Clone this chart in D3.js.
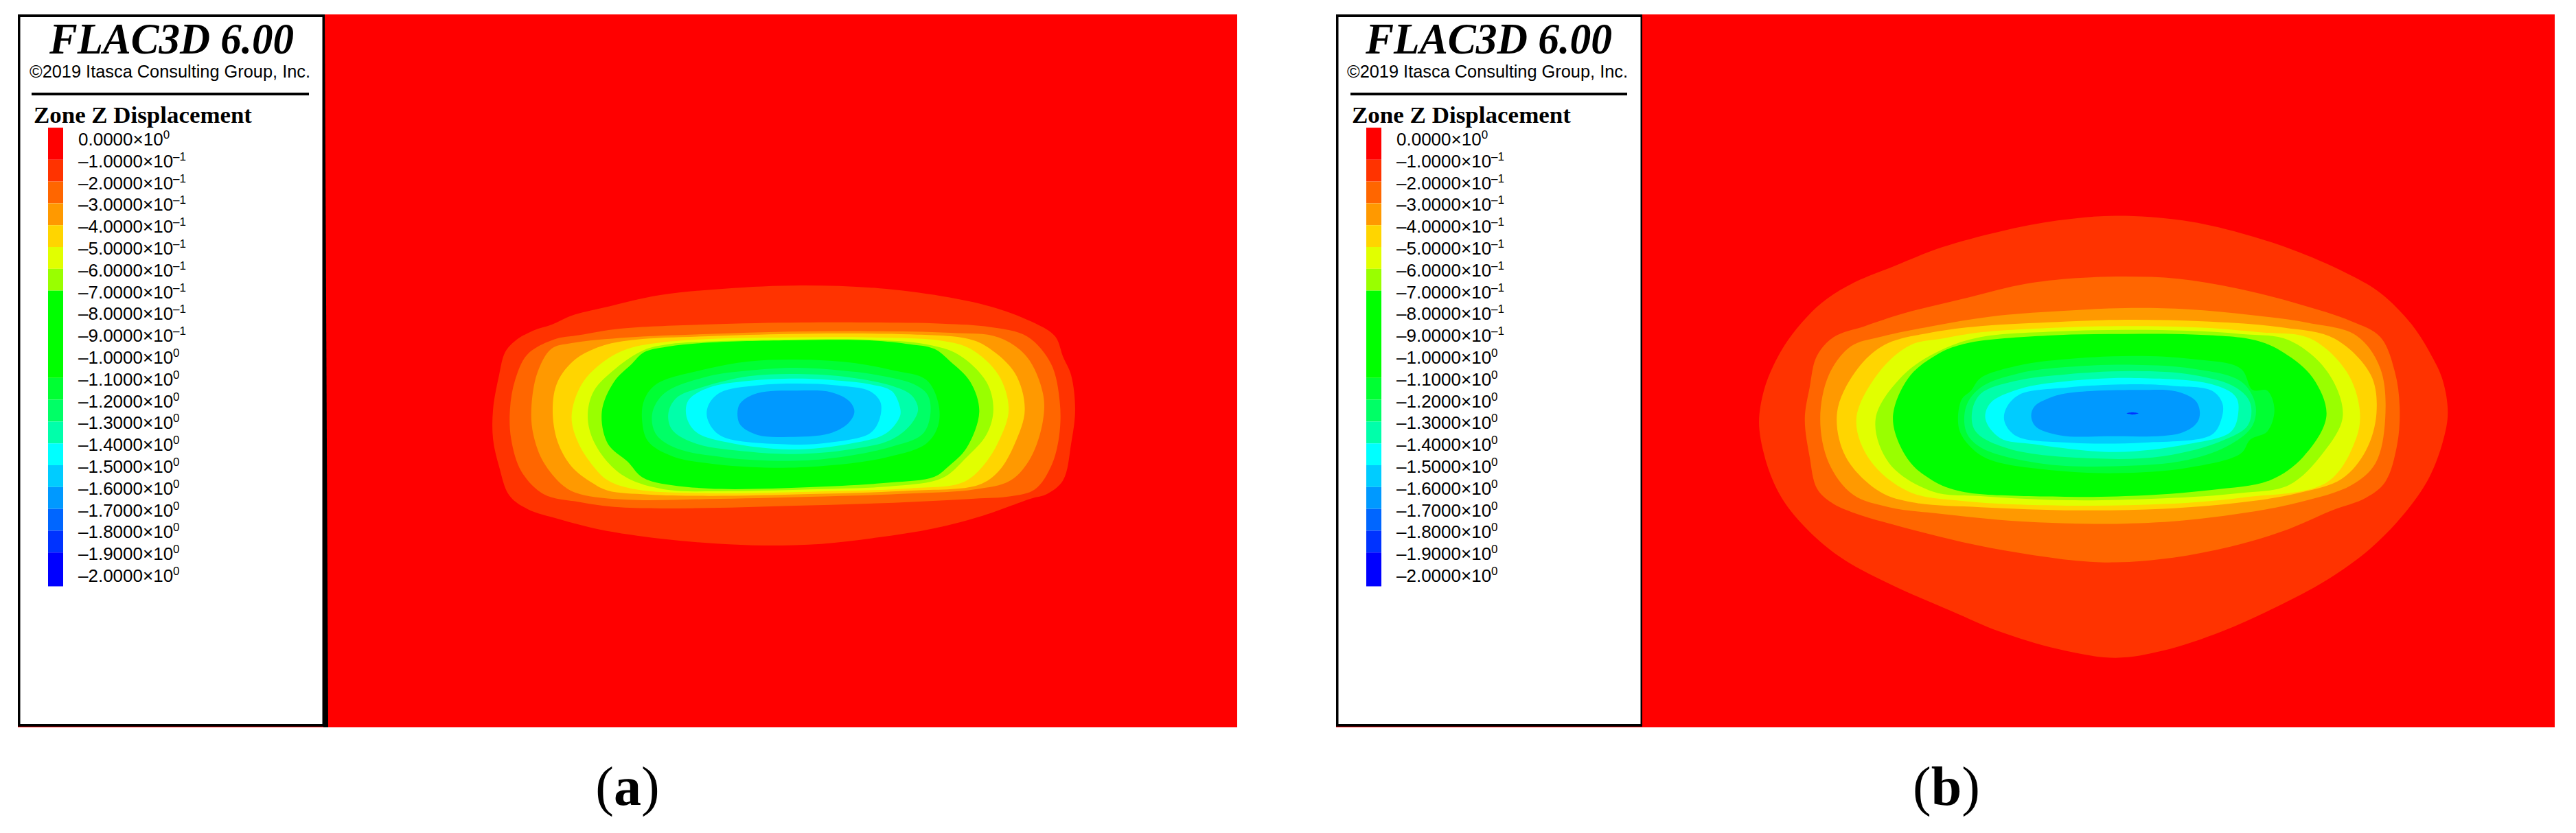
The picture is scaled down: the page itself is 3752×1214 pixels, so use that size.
<!DOCTYPE html>
<html>
<head>
<meta charset="utf-8">
<script src="https://cdn.jsdelivr.net/npm/d3@7"></script>
<style>
html, body { margin: 0; padding: 0; background: #fff; }
svg { display: block; }
</style>
</head>
<body>
<script>
const width = 3752;
const height = 1214;

// legend rows
const legendLabels = [
    ["0.0000", "0"], ["–1.0000", "–1"], ["–2.0000", "–1"], ["–3.0000", "–1"], ["–4.0000", "–1"],
    ["–5.0000", "–1"], ["–6.0000", "–1"], ["–7.0000", "–1"], ["–8.0000", "–1"], ["–9.0000", "–1"],
    ["–1.0000", "0"], ["–1.1000", "0"], ["–1.2000", "0"], ["–1.3000", "0"], ["–1.4000", "0"],
    ["–1.5000", "0"], ["–1.6000", "0"], ["–1.7000", "0"], ["–1.8000", "0"], ["–1.9000", "0"],
    ["–2.0000", "0"]
];

// colour bands of the legend: first row, last row, colour
const legendBands = [
    [-0.47, 1, "#ff0000"], [1, 2, "#ff3300"], [2, 3, "#ff6600"], [3, 4, "#ff9900"],
    [4, 5, "#ffd500"], [5, 6, "#e1ff00"], [6, 7, "#99ff00"], [7, 11, "#00ff00"],
    [11, 12, "#00ff33"], [12, 13, "#00ff66"], [13, 14, "#00ffaa"], [14, 15, "#00ffff"],
    [15, 16, "#00ccff"], [16, 17, "#0099ff"], [17, 18, "#0066ff"], [18, 19, "#0033ff"],
    [19, 20.55, "#0000ff"]
];

const contourColors = ["#ff3300", "#ff6600", "#ff9900", "#ffd500", "#e1ff00", "#99ff00", "#00ff00",
    "#00ff33", "#00ff66", "#00ffaa", "#00ffff", "#00ccff", "#0099ff", "#0033ff"];

// contour outlines, outermost first
const contoursA = [
    [[830,108],[640,122],[480,150],[340,205],[260,240],[210,280],[165,305],[120,350],[95,400],[80,500],[65,650],[65,780],[80,900],[105,1025],[150,1085],[230,1130],[330,1175],[480,1215],[620,1237],[740,1245],[880,1238],[1020,1210],[1160,1170],[1280,1115],[1400,1040],[1440,1020],[1480,960],[1500,800],[1510,650],[1500,500],[1480,420],[1460,330],[1400,265],[1300,200],[1180,155],[1020,120]],
    [[830,270],[600,278],[380,297],[280,325],[215,345],[150,410],[120,520],[107,650],[110,780],[135,920],[190,1020],[280,1055],[380,1078],[560,1082],[800,1072],[1060,1058],[1260,1040],[1350,1030],[1410,1000],[1450,900],[1470,770],[1472,620],[1450,450],[1390,330],[1300,290],[1180,275],[1000,270]],
    [[800,310],[600,320],[400,335],[260,360],[210,385],[175,490],[160,650],[165,760],[190,880],[240,985],[280,1020],[400,1045],[600,1042],[850,1032],[1100,1018],[1260,1000],[1350,960],[1400,860],[1430,700],[1430,580],[1390,420],[1320,335],[1200,315],[1000,308]],
    [[800,320],[600,330],[420,345],[340,370],[270,430],[225,530],[213,650],[225,790],[260,900],[310,970],[350,1005],[450,1022],[600,1028],[850,1020],[1100,1005],[1270,980],[1320,920],[1360,800],[1385,650],[1360,490],[1290,375],[1240,340],[1100,322],[950,318]],
    [[800,335],[600,342],[470,360],[400,385],[340,440],[285,540],[260,680],[275,790],[310,890],[350,960],[420,1000],[600,1016],[850,1010],[1100,995],[1230,970],[1280,900],[1320,790],[1345,650],[1320,500],[1250,385],[1180,350],[1000,335]],
    [[800,345],[620,352],[500,365],[440,390],[370,470],[315,570],[300,680],[315,790],[360,900],[410,960],[500,1002],[620,1008],[850,1000],[1060,985],[1180,950],[1240,860],[1290,760],[1307,650],[1290,530],[1220,410],[1140,365],[1000,345]],
    [[800,348],[600,358],[500,375],[440,400],[410,450],[365,530],[335,660],[350,800],[400,880],[430,940],[460,965],[600,996],[850,990],[1050,970],[1160,945],[1195,900],[1240,820],[1272,660],[1250,530],[1200,440],[1160,385],[1100,365],[1000,348]],
    [[820,432],[700,440],[590,475],[470,540],[440,610],[435,700],[450,790],[510,855],[620,890],[780,905],[900,895],[1040,860],[1140,800],[1170,720],[1170,620],[1140,520],[1060,480],[950,445]],
    [[820,468],[700,480],[600,505],[490,580],[460,670],[470,760],[520,820],[640,860],[800,875],[920,860],[1050,815],[1130,760],[1150,680],[1145,590],[1110,540],[1020,500],[930,480]],
    [[820,495],[700,505],[590,550],[520,600],[500,670],[510,740],[570,800],[700,835],[800,845],[930,830],[1050,785],[1100,720],[1120,650],[1105,590],[1060,550],[950,510]],
    [[820,515],[700,525],[600,555],[550,610],[545,680],[570,750],[650,795],[800,825],[950,800],[1040,755],[1075,680],[1075,640],[1055,570],[1000,540],[930,525]],
    [[820,537],[720,545],[630,575],[600,630],[597,690],[630,765],[800,803],[900,795],[1000,755],[1023,700],[1027,620],[1000,570],[920,545]],
    [[820,568],[720,580],[678,625],[672,680],[680,720],[722,762],[800,770],[900,755],[947,710],[962,660],[950,615],[905,575]]
];

// contour outlines, outermost first
const contoursB = [
    [[800,75],[680,90],[560,125],[440,175],[340,235],[260,285],[200,340],[160,395],[120,470],[90,550],[70,630],[60,730],[70,830],[90,920],[120,1000],[180,1100],[240,1170],[340,1250],[460,1330],[560,1395],[680,1450],[800,1478],[900,1455],[1020,1395],[1130,1320],[1240,1230],[1330,1130],[1400,1020],[1450,910],[1480,790],[1490,700],[1480,600],[1460,530],[1415,420],[1350,320],[1290,265],[1180,190],[1060,130],[940,90]],
    [[820,268],[700,275],[600,295],[480,340],[360,385],[280,425],[215,460],[180,520],[165,620],[155,720],[165,840],[180,940],[210,985],[260,1020],[350,1060],[480,1110],[600,1145],[720,1170],[800,1175],[920,1160],[1040,1125],[1150,1075],[1250,1010],[1320,970],[1360,920],[1385,800],[1390,680],[1380,570],[1350,460],[1290,410],[1180,355],[1050,305],[930,275]],
    [[820,368],[680,378],[540,395],[420,425],[310,460],[250,490],[205,580],[187,720],[205,860],[255,960],[330,1000],[430,1020],[600,1045],[780,1053],[920,1045],[1060,1020],[1180,985],[1290,930],[1340,860],[1360,720],[1350,560],[1300,455],[1200,415],[1080,390],[950,372]],
    [[820,405],[680,412],[520,425],[420,445],[320,485],[260,570],[222,700],[240,840],[310,950],[380,985],[520,1000],[720,1010],[900,1005],[1060,985],[1180,955],[1270,910],[1320,820],[1342,700],[1330,580],[1255,465],[1150,430],[980,410]],
    [[820,425],[680,430],[520,445],[440,465],[375,485],[310,570],[262,720],[290,850],[370,950],[480,980],[700,995],[900,990],[1060,970],[1240,920],[1300,780],[1307,690],[1280,570],[1205,465],[1100,445],[980,430]],
    [[820,437],[680,442],[520,460],[440,500],[360,580],[302,720],[330,860],[420,950],[520,965],[700,978],[900,972],[1060,955],[1160,930],[1230,830],[1272,710],[1240,570],[1160,470],[1060,450],[950,440]],
    [[820,450],[660,455],[490,480],[430,515],[370,590],[338,720],[370,850],[420,915],[480,950],[620,965],[820,965],[1000,945],[1120,915],[1190,840],[1238,710],[1210,590],[1150,510],[1090,470],[960,452]],
    [[840,520],[700,530],[600,550],[520,590],[500,630],[480,660],[475,750],[500,810],[540,850],[650,880],[800,892],[950,875],[1060,830],[1080,785],[1115,760],[1130,690],[1115,630],[1085,628],[1060,560],[960,530]],
    [[840,548],[700,555],[600,575],[520,620],[490,680],[490,760],[520,810],[640,860],[800,870],[950,850],[1040,800],[1085,740],[1090,670],[1060,600],[960,560]],
    [[840,568],[700,578],[590,600],[520,640],[502,700],[510,760],[580,815],[750,845],[900,838],[1020,790],[1075,740],[1080,670],[1050,620],[960,580]],
    [[840,590],[700,600],[600,625],[540,670],[530,720],[560,780],[630,800],[800,825],[950,800],[1040,760],[1055,700],[1050,650],[1000,610]],
    [[840,610],[700,620],[600,643],[572,690],[570,730],[595,775],[700,795],[860,795],[1000,770],[1020,720],[1022,670],[1000,630],[920,615]],
    [[850,628],[700,638],[660,655],[632,680],[625,710],[635,745],[685,772],[780,775],[935,765],[970,730],[975,695],[965,660],[925,632]],
    [[823,702],[835,699],[848,702],[835,706]]
];

const svg = d3.select("body").append("svg")
    .attr("width", width)
    .attr("height", height);

const rowY = d3.scaleLinear().domain([0, 20]).range([201, 837]);

function drawPanel(p) {
    const g = svg.append("g");
    const x = d3.scaleLinear().domain(p.xDomain).range(p.xRange);
    const y = d3.scaleLinear().domain(p.yDomain).range(p.yRange);

    const line = d3.line()
        .x(function (d) { return x(d[0]); })
        .y(function (d) { return y(d[1]); })
        .curve(d3.curveCatmullRomClosed.alpha(0.5));

    g.append("rect")
        .attr("x", p.boxLeft).attr("y", 21)
        .attr("width", p.plotRight - p.boxLeft).attr("height", 1039)
        .attr("fill", "#ff0000");

    g.selectAll("path.contour")
        .data(p.contours)
        .enter().append("path")
        .attr("class", "contour")
        .attr("d", line)
        .attr("fill", function (d, i) { return contourColors[i]; });

    // legend box
    g.append("rect")
        .attr("x", p.boxLeft).attr("y", 21)
        .attr("width", p.boxRight - p.boxLeft).attr("height", p.boxBottom - 21)
        .attr("fill", "#000");
    g.append("rect")
        .attr("x", p.boxLeft + 3.5).attr("y", 25)
        .attr("width", p.boxRight - p.boxLeft - 6).attr("height", p.boxBottom - 29)
        .attr("fill", "#fff");

    if (p.wedge) {
        g.append("path")
            .attr("d", d3.line()(p.wedge))
            .attr("fill", "#000");
    }

    g.append("text")
        .attr("x", p.titleX[0]).attr("y", 78)
        .attr("textLength", p.titleX[1] - p.titleX[0])
        .attr("lengthAdjust", "spacingAndGlyphs")
        .attr("font-family", "Liberation Serif")
        .attr("font-weight", "bold").attr("font-style", "italic")
        .attr("font-size", 64)
        .text("FLAC3D 6.00");

    g.append("text")
        .attr("x", p.copyX[0]).attr("y", 113)
        .attr("textLength", p.copyX[1] - p.copyX[0])
        .attr("lengthAdjust", "spacingAndGlyphs")
        .attr("font-family", "Liberation Sans")
        .attr("font-size", 26)
        .text("©2019 Itasca Consulting Group, Inc.");

    g.append("rect")
        .attr("x", p.ruleX[0]).attr("y", 135)
        .attr("width", p.ruleX[1] - p.ruleX[0]).attr("height", 4)
        .attr("fill", "#000");

    g.append("text")
        .attr("x", p.zoneX[0]).attr("y", 179)
        .attr("textLength", p.zoneX[1] - p.zoneX[0])
        .attr("lengthAdjust", "spacingAndGlyphs")
        .attr("font-family", "Liberation Serif")
        .attr("font-weight", "bold")
        .attr("font-size", 33)
        .text("Zone Z Displacement");

    g.selectAll("rect.band")
        .data(legendBands)
        .enter().append("rect")
        .attr("class", "band")
        .attr("x", p.swatchX[0])
        .attr("width", p.swatchX[1] - p.swatchX[0])
        .attr("y", function (d) { return rowY(d[0]); })
        .attr("height", function (d) { return rowY(d[1]) - rowY(d[0]); })
        .attr("fill", function (d) { return d[2]; });

    const rows = g.selectAll("text.row")
        .data(legendLabels)
        .enter().append("text")
        .attr("class", "row")
        .attr("transform", function (d, i) {
            return "translate(" + p.labelX + "," + (rowY(i) + 11) + ")";
        })
        .attr("font-family", "Liberation Sans")
        .attr("font-size", 26);
    rows.append("tspan")
        .text(function (d) { return d[0] + "×10"; });
    rows.append("tspan")
        .attr("dy", -10)
        .attr("font-size", 17)
        .text(function (d) { return d[1]; });

    g.append("text")
        .attr("x", p.captionX).attr("y", 1173)
        .attr("text-anchor", "middle")
        .attr("font-family", "Liberation Serif")
        .attr("font-size", 80)
        .html("(<tspan font-weight='bold'>" + p.caption + "</tspan>)");
}

drawPanel({
    contours: contoursA, caption: "a", captionX: 914,
    xDomain: [0, 1568], xRange: [680, 1600], yDomain: [0, 1350], yRange: [380, 830],
    boxLeft: 26, boxRight: 472, boxBottom: 1059, plotRight: 1802,
    wedge: [[470, 21], [473, 21], [478, 1060], [471, 1060]],
    titleX: [72, 428], copyX: [43, 452], ruleX: [46, 450], zoneX: [49, 367],
    swatchX: [70, 92], labelX: 114
});

drawPanel({
    contours: contoursB, caption: "b", captionX: 2835,
    xDomain: [0, 1568], xRange: [2520, 3620], yDomain: [0, 1568], yRange: [280, 1000],
    boxLeft: 1946, boxRight: 2392, boxBottom: 1059, plotRight: 3721,
    wedge: null,
    titleX: [1989, 2348], copyX: [1962, 2371], ruleX: [1967, 2370], zoneX: [1969, 2288],
    swatchX: [1990, 2012], labelX: 2034
});
</script>
</body>
</html>
